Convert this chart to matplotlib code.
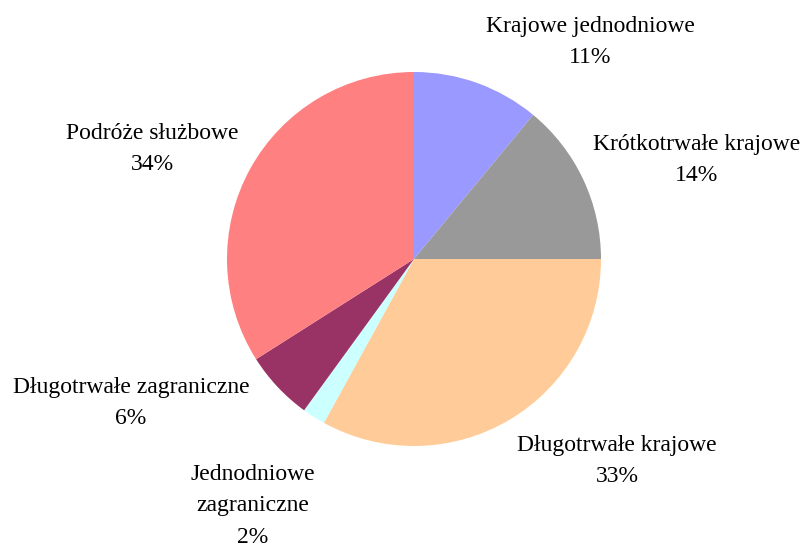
import numpy as np
import matplotlib.pyplot as plt

# Dane do wykresu
categories = ['Krajowe jednodniowe', 'Krótkotrwałe krajowe', 'Długotrwałe krajowe',
              'Jednodniowe\nzagraniczne', 'Długotrwałe zagraniczne', 'Podróże służbowe']
shares = [11, 14, 33, 2, 6, 34]
colors = ['#9999FF', '#999999', '#FFCC99', '#CCFFFF', '#993366', '#FF8080']

# Położenie podpisów (środek bloku tekstu, w pikselach obrazu)
label_px = [(590, 42), (697, 160), (617, 461), (253, 506), (131, 403), (152, 149)]

W, H = 803, 545
cx, cy, R = 414, 259, 187

fig = plt.figure(figsize=(W / 100, H / 100), dpi=100)
ax = fig.add_axes([0, 0, 1, 1])

ax.pie(shares, colors=colors, startangle=90, counterclock=False, radius=1,
       wedgeprops={'linewidth': 0})

# Ustawienie pól po pie(), bo pie() nadpisuje granice
ax.set_xlim(-cx / R, (W - cx) / R)
ax.set_ylim((cy - H) / R, cy / R)
ax.set_aspect('equal')
ax.axis('off')

for name, val, (px, py) in zip(categories, shares, label_px):
    ax.text((px - cx) / R, (cy - py) / R, '{}\n{}%'.format(name, val),
            ha='center', va='center', multialignment='center',
            fontsize=17, family='Liberation Serif', linespacing=1.65)

fig.savefig('out.png', dpi=100)
